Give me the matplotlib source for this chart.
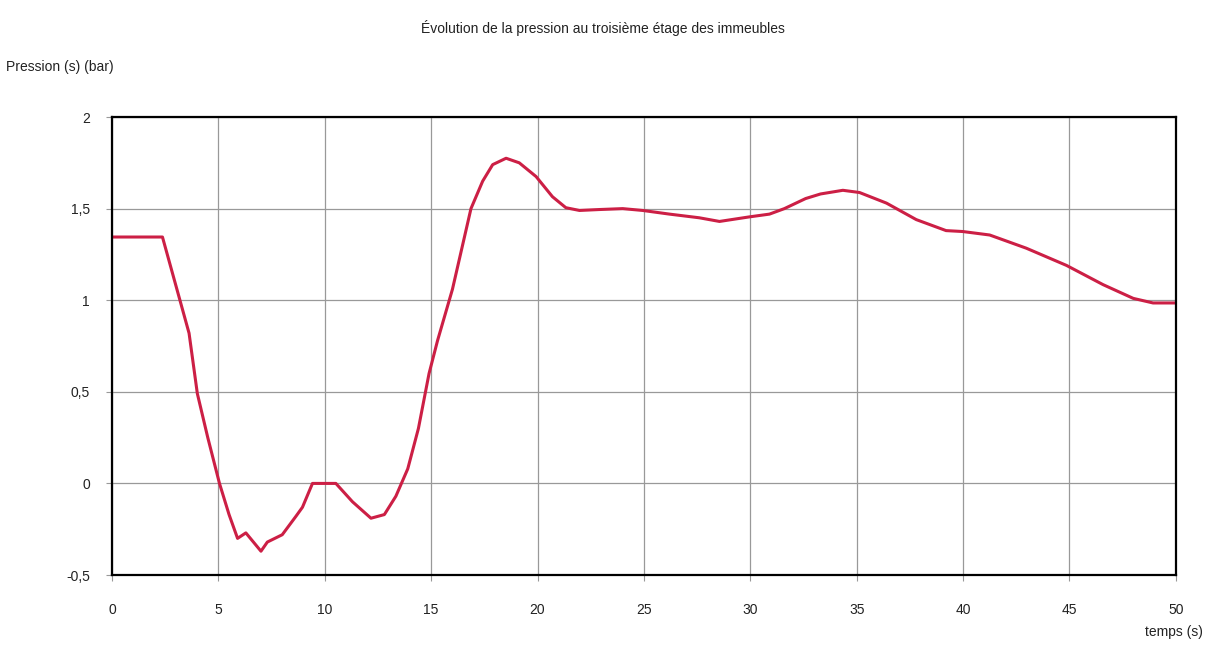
import matplotlib
matplotlib.use('Agg')
import matplotlib.pyplot as plt

# temps (s) / pression (bar)
temps = [0, 2.37, 3.62, 4.01, 4.5, 5.05, 5.5, 5.9, 6.29, 7.0, 7.3, 8.0, 8.64,
         8.95, 9.42, 10.52, 11.3, 12.17, 12.8, 13.34, 13.9, 14.4, 14.9, 15.3, 16.0,
         16.87, 17.42, 17.89, 18.52, 19.14, 19.93, 20.7, 21.33, 21.97, 22.9, 24.0,
         24.94, 26.2, 27.6, 28.55, 29.96, 30.9, 31.6, 32.6, 33.3, 34.35, 35.13,
         36.4, 37.8, 39.2, 39.98, 41.25, 42.97, 44.86, 46.58, 48.0, 48.93, 50]
pression = [1.345, 1.345, 0.82, 0.49, 0.25, 0.0, -0.17, -0.30, -0.27, -0.37,
            -0.32, -0.28, -0.18, -0.13, 0.0, 0.0, -0.1, -0.19, -0.17, -0.07, 0.08,
            0.3, 0.6, 0.78, 1.06, 1.5, 1.65, 1.74, 1.775, 1.75, 1.675, 1.565, 1.505,
            1.49, 1.495, 1.5, 1.49, 1.47, 1.45, 1.43, 1.455, 1.47, 1.5, 1.555, 1.58,
            1.60, 1.588, 1.53, 1.44, 1.38, 1.375, 1.356, 1.284, 1.19, 1.085, 1.01,
            0.985, 0.985]

xticks = [0, 5, 10, 15, 20, 25, 30, 35, 40, 45, 50]
yticks = [-0.5, 0, 0.5, 1, 1.5, 2]
ytick_labels = ['-0,5', '0', '0,5', '1', '1,5', '2']

plt.rcParams['font.family'] = ['Liberation Sans', 'DejaVu Sans']

fig = plt.figure(figsize=(12.06, 6.63), dpi=100)
ax = fig.add_axes([0.0929, 0.1327, 0.8821, 0.6908])

ax.plot(temps, pression, color='#cc1f45', lw=2.2, solid_joinstyle='round')

ax.set_xlim(0, 50)
ax.set_ylim(-0.5, 2)
ax.set_xticks(xticks)
ax.set_xticklabels([str(t) for t in xticks])
ax.set_yticks(yticks)
ax.set_yticklabels(ytick_labels)
ax.grid(True, color='#999999', lw=0.9)
ax.set_axisbelow(True)
ax.tick_params(direction='out', length=4, color='#999999', labelsize=10,
               labelcolor='#222222')
ax.tick_params(axis='x', pad=16)
ax.tick_params(axis='y', pad=12)
for s in ax.spines.values():
    s.set_linewidth(1.6)
    s.set_color('black')

fig.text(0.5, 0.958, 'Évolution de la pression au troisième étage des immeubles',
         ha='center', va='center', fontsize=10, color='#222222')
fig.text(0.005, 0.899, 'Pression (s) (bar)', ha='left', va='center',
         fontsize=10, color='#222222')
fig.text(0.997, 0.047, 'temps (s)', ha='right', va='center',
         fontsize=10, color='#222222')

fig.savefig('out.png', dpi=100)
